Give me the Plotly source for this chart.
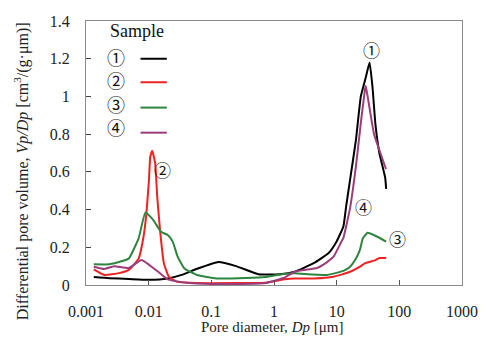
import math
import plotly.graph_objects as go

# Pore diameter [um] and differential pore volume for each sample
x1 = [0.00133, 0.00236, 0.00483, 0.00989, 0.0202, 0.0347, 0.0593, 0.130, 0.248, 0.566, 1.24, 2.13,
      4.36, 7.45, 9.93, 12.8, 14.2, 16.4, 20.3, 24.3, 29.1, 33.5, 37.3, 41.6, 48.0, 59.4, 61.6]
y1 = [0.042, 0.036, 0.032, 0.028, 0.035, 0.055, 0.086, 0.122, 0.100, 0.057, 0.057, 0.070,
      0.117, 0.170, 0.230, 0.310, 0.420, 0.560, 0.770, 1.000, 1.100, 1.180, 1.050, 0.850, 0.700, 0.570, 0.510]

x2 = [0.00133, 0.00197, 0.00338, 0.00483, 0.00691, 0.00827, 0.0092, 0.0101, 0.0106, 0.0114, 0.0127,
      0.0137, 0.0152, 0.0175, 0.0210, 0.0279, 0.0593, 0.248, 0.728, 1.49, 2.13, 4.36, 8.91, 16.4,
      23.5, 28.1, 41.6, 48.0, 61.6]
y2 = [0.083, 0.053, 0.063, 0.080, 0.140, 0.256, 0.380, 0.556, 0.680, 0.712, 0.646,
      0.468, 0.290, 0.115, 0.044, 0.018, 0.010, 0.010, 0.012, 0.030, 0.035, 0.035, 0.044, 0.070,
      0.097, 0.115, 0.132, 0.143, 0.143]

x3 = [0.00133, 0.00236, 0.00376, 0.00483, 0.00691, 0.00889, 0.0118, 0.0157, 0.0202, 0.0242, 0.0290,
      0.0372, 0.0593, 0.121, 0.356, 0.728, 1.49, 2.13, 6.94, 12.8, 16.4, 20.3, 23.5, 26.1, 31.2, 44.7, 61.6]
y3 = [0.110, 0.110, 0.127, 0.141, 0.247, 0.385, 0.345, 0.283, 0.265, 0.230, 0.150,
      0.088, 0.053, 0.035, 0.037, 0.042, 0.060, 0.062, 0.053, 0.075, 0.097, 0.140, 0.186, 0.247, 0.277, 0.256, 0.230]

x4 = [0.00133, 0.00197, 0.00282, 0.00483, 0.0077, 0.0142, 0.0202, 0.0347, 0.0593, 0.248, 0.728, 1.49,
      2.13, 3.05, 4.85, 6.94, 8.91, 11.5, 12.8, 16.4, 20.3, 24.3, 28.1, 29.1, 31.2, 39.5, 48.0, 59.4, 61.6]
y4 = [0.097, 0.085, 0.100, 0.090, 0.133, 0.070, 0.030, 0.015, 0.008, 0.005, 0.010, 0.040,
      0.070, 0.080, 0.090, 0.120, 0.150, 0.220, 0.250, 0.410, 0.630, 0.860, 1.030, 1.055, 1.000, 0.800, 0.716, 0.627, 0.615]

names = ["①", "②", "③", "④"]
colors = ["#000000", "#ee2222", "#2e8540", "#9b3d7a"]

x_ticks = [0.001, 0.01, 0.1, 1, 10, 100, 1000]
x_tick_text = ["0.001", "0.01", "0.1", "1", "10", "100", "1000"]
y_ticks = [0, 0.2, 0.4, 0.6, 0.8, 1.0, 1.2, 1.4]
y_tick_text = ["0", "0.2", "0.4", "0.6", "0.8", "1", "1.2", "1.4"]

SERIF = "Liberation Serif"
CJK = "Noto Sans CJK JP"

fig = go.Figure()
for xs, ys, nm, c in zip([x1, x2, x3, x4], [y1, y2, y3, y4], names, colors):
    fig.add_trace(go.Scatter(x=xs, y=ys, mode="lines", name=nm,
                             line=dict(color=c, width=2, shape="spline", smoothing=0.4),
                             showlegend=False))

# Circled labels next to the curves
labels = [("①", 36, 1.25), ("②", 0.0165, 0.61), ("③", 95, 0.245), ("④", 27, 0.415)]
annotations = []
for t, xv, yv in labels:
    annotations.append(dict(x=math.log10(xv), y=yv, xref="x", yref="y", text=t, showarrow=False,
                            xanchor="center", yanchor="middle",
                            font=dict(family=CJK, size=17, color="#111")))

# Legend (title, circled numbers, line samples)
annotations.append(dict(x=0.135, y=0.962, xref="paper", yref="paper", text="Sample", showarrow=False,
                        xanchor="center", yanchor="middle",
                        font=dict(family=SERIF, size=18, color="#111")))
leg_y_text = [0.862, 0.775, 0.686, 0.600]
leg_y_line = [0.857, 0.768, 0.672, 0.577]
shapes = []
for nm, c, yt, yl in zip(names, colors, leg_y_text, leg_y_line):
    annotations.append(dict(x=0.081, y=yt, xref="paper", yref="paper", text=nm, showarrow=False,
                            xanchor="center", yanchor="middle",
                            font=dict(family=CJK, size=18, color="#111")))
    shapes.append(dict(type="line", xref="paper", yref="paper", x0=0.145, x1=0.215, y0=yl, y1=yl,
                       line=dict(color=c, width=2)))

# Axis titles
annotations.append(dict(x=-0.171, y=0.43, xref="paper", yref="paper", textangle=-90, showarrow=False,
                        xanchor="center", yanchor="middle",
                        text="Differential pore volume, <i>Vp/Dp</i> [cm<sup>3</sup>/(g·μm)]",
                        font=dict(family=SERIF, size=16, color="#222")))
annotations.append(dict(x=0.495, y=-0.159, xref="paper", yref="paper", showarrow=False,
                        xanchor="center", yanchor="middle",
                        text="Pore diameter, <i>Dp</i> [μm]",
                        font=dict(family=SERIF, size=15, color="#222")))

fig.update_layout(
    width=490, height=347,
    margin=dict(l=86, r=18, t=21, b=62),
    paper_bgcolor="white", plot_bgcolor="white",
    annotations=annotations, shapes=shapes,
    showlegend=False,
)
# Frame: grey box on all four sides (axis lines mirrored)
fig.update_xaxes(type="log", range=[-3, 3], tickvals=x_ticks, ticktext=x_tick_text,
                 ticks="inside", ticklen=5, tickwidth=1, tickcolor="#555", showgrid=False, zeroline=False,
                 showline=True, linecolor="#8a8a8a", linewidth=1, mirror=True,
                 tickfont=dict(family=SERIF, size=16, color="#222"), ticklabelstandoff=12)
fig.update_yaxes(range=[0, 1.4], tickvals=y_ticks, ticktext=y_tick_text,
                 ticks="inside", ticklen=5, tickwidth=1, tickcolor="#444", showgrid=False, zeroline=False,
                 showline=True, linecolor="#8a8a8a", linewidth=1, mirror=True,
                 tickfont=dict(family=SERIF, size=16, color="#222"), ticklabelstandoff=12)

# Remove the default page margin so the 490x347 figure fills the window exactly
fig.write_html("out.html", config={"displayModeBar": False},
               post_script="document.body.style.margin='0';")
